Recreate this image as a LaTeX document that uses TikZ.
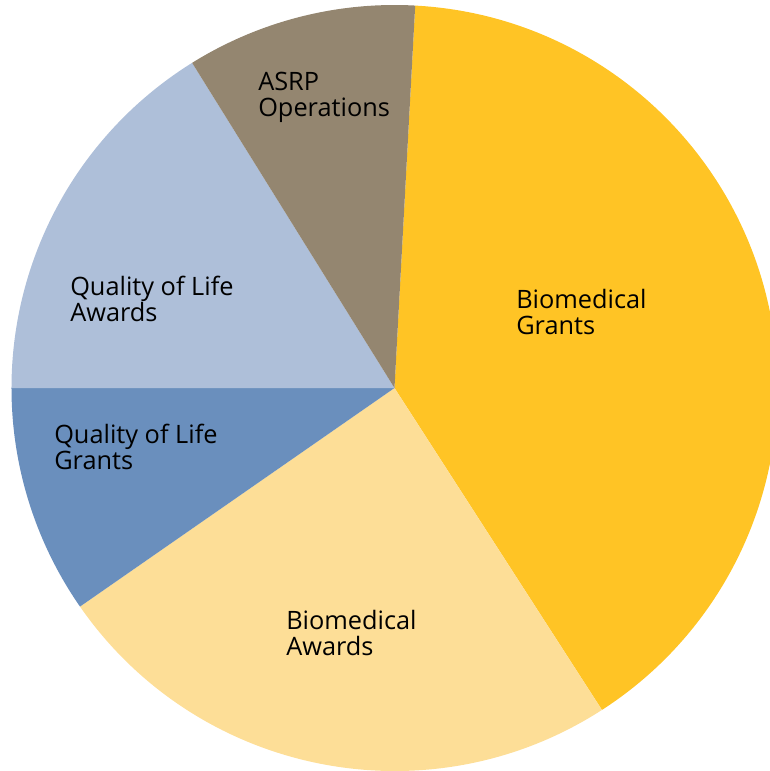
\documentclass[tikz,border=0pt]{standalone}
\usepackage{fontspec}
\setmainfont{Open Sans}
\usepackage{xcolor}
\usepackage{tikz}

\definecolor{biograntcol}{HTML}{FFC425}
\definecolor{bioawardcol}{HTML}{FDDE97}
\definecolor{qolgrantcol}{HTML}{6A8FBD}
\definecolor{qolawardcol}{HTML}{AEBFD9}
\definecolor{opscol}{HTML}{948670}

\tikzset{
  slicelabel/.style={anchor=north west, inner sep=0pt, align=left,
    font=\fontsize{19}{19.5}\selectfont, text=black}
}

\begin{document}
\begin{tikzpicture}[x=0.75pt,y=0.75pt]
\def\rad{383}
  \useasboundingbox (-394.5,-383) rectangle (375.5,388);
  \clip (-394.5,-383) rectangle (375.5,388);
      \fill[biograntcol] (0,0) -- (86.9:\rad) arc[start angle=86.9, end angle=-57.2, radius=\rad] -- cycle;
      \fill[bioawardcol] (0,0) -- (-57.2:\rad) arc[start angle=-57.2, end angle=-145.2, radius=\rad] -- cycle;
      \fill[qolgrantcol] (0,0) -- (-145.2:\rad) arc[start angle=-145.2, end angle=-180, radius=\rad] -- cycle;
      \fill[qolawardcol] (0,0) -- (180:\rad) arc[start angle=180, end angle=121.9, radius=\rad] -- cycle;
      \fill[opscol] (0,0) -- (121.9:\rad) arc[start angle=121.9, end angle=86.9, radius=\rad] -- cycle;
      \node[slicelabel] (ops) at (-136.5,316.5) {ASRP\\Operations};
      \node[slicelabel] (biogrant) at (121.5,99.5) {Biomedical\\Grants};
      \node[slicelabel] (qolaward) at (-324.5,112.5) {Quality of Life\\Awards};
      \node[slicelabel] (qolgrant) at (-340.5,-35.5) {Quality of Life\\Grants};
      \node[slicelabel] (bioaward) at (-108.5,-222) {Biomedical\\Awards};
\end{tikzpicture}
\end{document}
